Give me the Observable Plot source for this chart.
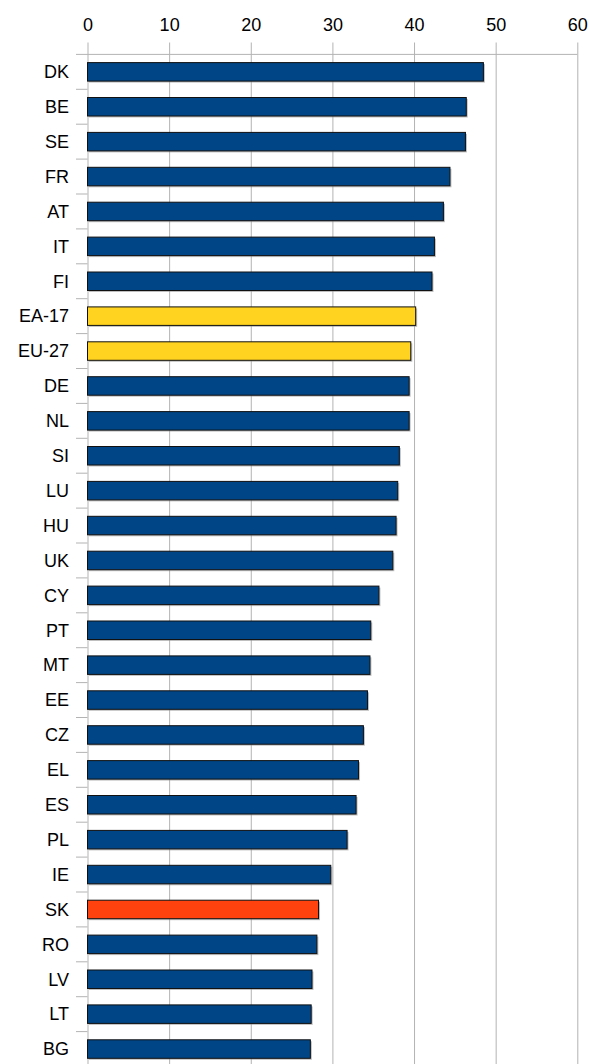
<!DOCTYPE html>
<html><head><meta charset="utf-8">
<script src="https://cdn.jsdelivr.net/npm/d3@7"></script>
<script src="https://cdn.jsdelivr.net/npm/@observablehq/plot@0.6"></script>
<style>
body{margin:0;background:#fff}
#chart svg{display:block}
</style>
</head><body><div id="chart"></div>
<script>
const categories = ["DK","BE","SE","FR","AT","IT","FI","EA-17","EU-27","DE","NL","SI","LU","HU","UK","CY","PT","MT","EE","CZ","EL","ES","PL","IE","SK","RO","LV","LT","BG"];
const values = [48.5,46.4,46.3,44.4,43.6,42.5,42.2,40.2,39.6,39.4,39.4,38.2,38.0,37.8,37.4,35.7,34.7,34.6,34.3,33.8,33.2,32.9,31.8,29.8,28.3,28.1,27.5,27.4,27.3];
const groups = ["country","country","country","country","country","country","country","aggregate","aggregate","country","country","country","country","country","country","country","country","country","country","country","country","country","country","country","highlight","country","country","country","country"];
const xTicks = [0,10,20,30,40,50,60];
const groupNames = ["country","aggregate","highlight"];
const groupColors = ["#004586","#ffd320","#ff420e"];

const data = categories.map((c, i) => ({cat: c, value: values[i], group: groups[i]}));

const W = 589, H = 1064;
const plot = Plot.plot({
  width: W, height: H,
  marginTop: 42.5, marginLeft: 87.5, marginRight: 11.7, marginBottom: 0,
  style: {fontFamily: "'Liberation Sans', Arial, sans-serif", fontSize: "18px", color: "#000", background: "#fff", overflow: "visible"},
  x: {domain: [0, 60], axis: null, label: null},
  y: {domain: categories, range: [54.4, 1066.5], paddingInner: 0.47, paddingOuter: 0.235, round: false, axis: null, label: null},
  color: {domain: groupNames, range: groupColors},
  marks: [
    Plot.gridX(xTicks, {stroke: "#b3b3b3", strokeOpacity: 1, strokeWidth: 1}),
    Plot.barX(data, {x: "value", y: "cat", fill: "#8a8a8a", fillOpacity: 0.55, dx: 1.5, dy: 1.5}),
    Plot.barX(data, {x: "value", y: "cat", fill: "group", stroke: "#111", strokeWidth: 1}),
    Plot.axisX(xTicks, {anchor: "top", tickSize: 0, tickPadding: 12, fontSize: 18, label: null}),
    Plot.axisY({anchor: "left", tickSize: 0, tickPadding: 19, fontSize: 18, label: null})
  ]
});

// separator ticks at band boundaries + top axis line, positioned by the plot's own scales
const ys = plot.scale("y"), xs = plot.scale("x");
const x0 = xs.apply(0), x1 = xs.apply(60);
const gap = (ys.step - ys.bandwidth) / 2;
const svg = d3.select(plot.tagName === "svg" ? plot : plot.querySelector("svg"));
const g = svg.append("g").attr("stroke", "#b3b3b3").attr("stroke-width", 1);
categories.forEach((c, i) => {
  const yb = ys.apply(c) - gap;
  g.append("line").attr("x1", x0 - 11.5).attr("x2", i === 0 ? x1 : x0).attr("y1", yb).attr("y2", yb);
});
document.getElementById("chart").appendChild(plot);
</script>
</body></html>
